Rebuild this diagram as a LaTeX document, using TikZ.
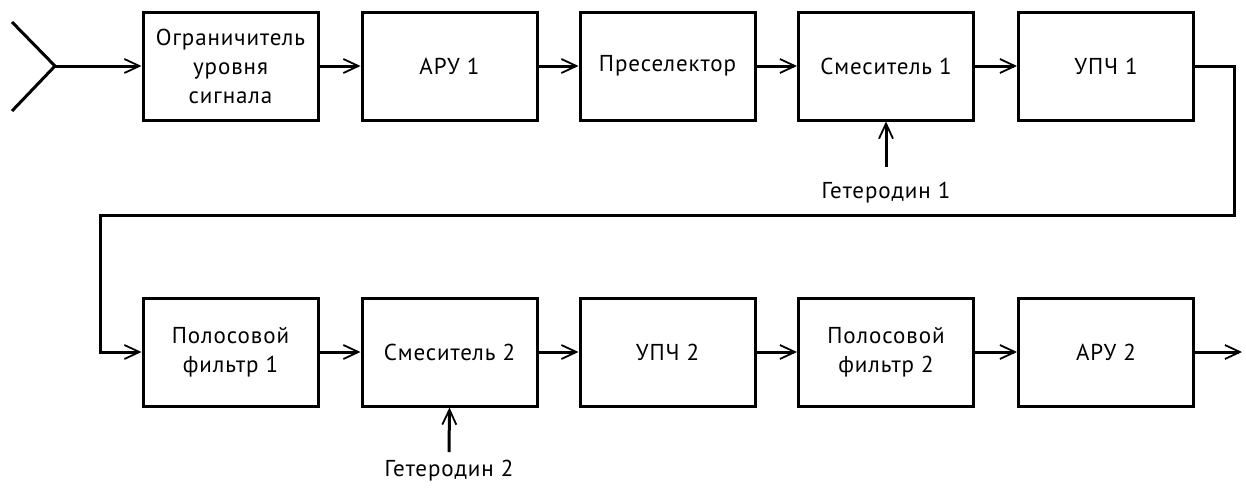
\documentclass[tikz,border=0pt]{standalone}
\usepackage{fontspec}
\setmainfont{PT Sans}[LetterSpace=4]
\usetikzlibrary{arrows.meta}
\begin{document}
\begin{tikzpicture}[x=1pt,y=-1pt,
  blk/.style={draw,line width=3pt,minimum width=175pt,minimum height=108pt,inner sep=0pt,align=center,font=\fontsize{23}{29}\selectfont},
  lbl/.style={font=\fontsize{23}{29}\selectfont,inner sep=0pt},
  conn/.style={line width=3pt,-{Straight Barb[length=15pt,width=14pt,line width=1.8pt]}},
  wire/.style={line width=3pt}]
\useasboundingbox (0,0) rectangle (1246,490);
\node[blk] (b1) at (230.5,66) {Ограничитель\\уровня\\сигнала};
\node[blk] (b2) at (449.5,66) {АРУ 1};
\node[blk] (b3) at (667.5,66) {Преселектор};
\node[blk] (b4) at (886,66) {Смеситель 1};
\node[blk] (b5) at (1106,66) {УПЧ 1};
\node[blk] (c1) at (230.5,352) {Полосовой\\фильтр 1};
\node[blk] (c2) at (449.5,352) {Смеситель 2};
\node[blk] (c3) at (667.5,352) {УПЧ 2};
\node[blk] (c4) at (886,352) {Полосовой\\фильтр 2};
\node[blk] (c5) at (1106,352) {АРУ 2};
\node[lbl] (h1) at (886,193) {Гетеродин 1};
\node[lbl] (h2) at (449,471) {Гетеродин 2};
\coordinate (ant) at (55,66);
\coordinate (antU) at (12,22);
\coordinate (antD) at (12,111);
\coordinate (out) at (1242,352);
\draw[wire] (antU) -- (ant) -- (antD);
\draw[conn] (ant) -- (b1);
\draw[conn] (b1) -- (b2);
\draw[conn] (b2) -- (b3);
\draw[conn] (b3) -- (b4);
\draw[conn] (b4) -- (b5);
\draw[conn] (b5.east) -- (1234,66) -- (1234,215) -- (100,215) -- (100,352) -- (c1.west);
\draw[conn] (c1) -- (c2);
\draw[conn] (c2) -- (c3);
\draw[conn] (c3) -- (c4);
\draw[conn] (c4) -- (c5);
\draw[conn] (c5) -- (out);
\draw[conn] (886,167) -- (b4.south);
\draw[conn] (449,452) -- (c2.south);
\end{tikzpicture}
\end{document}
